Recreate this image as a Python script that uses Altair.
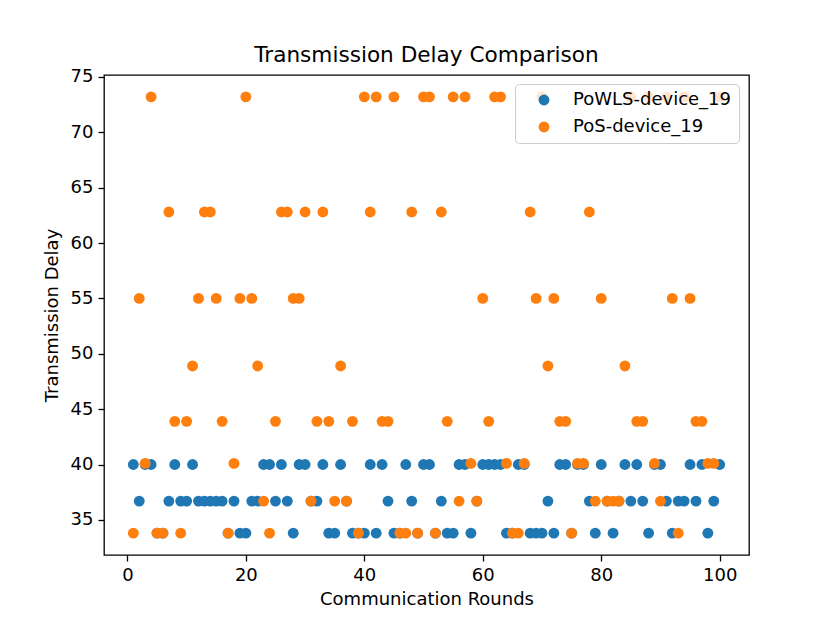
import altair as alt
import pandas as pd

rounds = list(range(1, 101))

powls_delay = [
    40.0, 36.7, 40.0, 40.0, 33.8, 33.8, 36.7, 40.0, 36.7, 36.7,
    40.0, 36.7, 36.7, 36.7, 36.7, 36.7, 33.8, 36.7, 33.8, 33.8,
    36.7, 36.7, 40.0, 40.0, 36.7, 40.0, 36.7, 33.8, 40.0, 40.0,
    36.7, 36.7, 40.0, 33.8, 33.8, 40.0, 36.7, 33.8, 33.8, 33.8,
    40.0, 33.8, 40.0, 36.7, 33.8, 33.8, 40.0, 36.7, 33.8, 40.0,
    40.0, 33.8, 36.7, 33.8, 33.8, 40.0, 40.0, 33.8, 36.7, 40.0,
    40.0, 40.0, 40.0, 33.8, 33.8, 40.0, 40.0, 33.8, 33.8, 33.8,
    36.7, 33.8, 40.0, 40.0, 33.8, 40.0, 40.0, 36.7, 33.8, 40.0,
    36.7, 33.8, 36.7, 40.0, 36.7, 40.0, 36.7, 33.8, 40.0, 40.0,
    36.7, 33.8, 36.7, 36.7, 40.0, 36.7, 40.0, 33.8, 36.7, 40.0,
]

pos_delay = [
    33.8, 55.0, 40.1, 73.2, 33.8, 33.8, 62.8, 43.9, 33.8, 43.9,
    48.9, 55.0, 62.8, 62.8, 55.0, 43.9, 33.8, 40.1, 55.0, 73.2,
    55.0, 48.9, 36.7, 33.8, 43.9, 62.8, 62.8, 55.0, 55.0, 62.8,
    36.7, 43.9, 62.8, 43.9, 36.7, 48.9, 36.7, 43.9, 33.8, 73.2,
    62.8, 73.2, 43.9, 43.9, 73.2, 33.8, 33.8, 62.8, 33.8, 73.2,
    73.2, 33.8, 62.8, 43.9, 73.2, 36.7, 73.2, 40.1, 36.7, 55.0,
    43.9, 73.2, 73.2, 40.1, 33.8, 33.8, 40.1, 62.8, 55.0, 73.2,
    48.9, 55.0, 43.9, 43.9, 33.8, 40.1, 40.1, 62.8, 36.7, 55.0,
    36.7, 36.7, 36.7, 48.9, 73.2, 43.9, 43.9, 73.2, 40.1, 36.7,
    73.2, 55.0, 33.8, 73.2, 55.0, 43.9, 43.9, 40.1, 40.1, 73.2,
]

series_names = ["PoWLS-device_19", "PoS-device_19"]
series_colors = ["#1f77b4", "#ff7f0e"]

df = pd.DataFrame({
    "round": rounds + rounds,
    "delay": powls_delay + pos_delay,
    "series": [series_names[0]] * len(rounds) + [series_names[1]] * len(rounds),
    "layer": [0] * len(rounds) + [1] * len(rounds),
})

font = "DejaVu Sans"

chart = alt.Chart(df).mark_circle(size=118, opacity=1).encode(
    x=alt.X(
        "round:Q",
        scale=alt.Scale(domain=[-3.95, 104.95], nice=False, zero=False),
        axis=alt.Axis(
            values=[0, 20, 40, 60, 80, 100], title="Communication Rounds",
            grid=False, domain=False, tickColor="black", tickWidth=1.3, tickSize=6,
            labelColor="black", labelFontSize=18, labelFont=font, labelPadding=5,
            titleFont=font, titleFontSize=18, titleFontWeight="normal",
            titleColor="black", titlePadding=6,
        ),
    ),
    y=alt.Y(
        "delay:Q",
        scale=alt.Scale(domain=[31.83, 75.17], nice=False, zero=False),
        axis=alt.Axis(
            values=[35, 40, 45, 50, 55, 60, 65, 70, 75], title="Transmission Delay",
            grid=False, domain=False, tickColor="black", tickWidth=1.3, tickSize=6,
            labelColor="black", labelFontSize=18, labelFont=font, labelPadding=5,
            titleFont=font, titleFontSize=18, titleFontWeight="normal",
            titleColor="black", titlePadding=9,
        ),
    ),
    color=alt.Color(
        "series:N",
        scale=alt.Scale(domain=series_names, range=series_colors),
        sort=series_names,
        legend=alt.Legend(
            title=None, orient="none", legendX=411, legendY=9,
            labelFont=font, labelFontSize=18, labelColor="black",
            symbolType="circle", symbolSize=118, symbolOpacity=1,
            padding=7, rowPadding=9, symbolOffset=13, labelOffset=20,
            fillColor="rgba(255,255,255,0.8)", strokeColor="#cccccc",
            cornerRadius=4,
        ),
    ),
    order=alt.Order("layer:Q"),
).properties(
    width=645,
    height=480,
    title=alt.TitleParams(
        "Transmission Delay Comparison", font=font, fontSize=21.6,
        fontWeight="normal", color="black", anchor="middle", offset=1,
    ),
    autosize=alt.AutoSizeParams(type="none"),
    padding={"left": 96, "top": 67, "right": 70, "bottom": 60},
).configure_view(stroke="black", strokeWidth=1.3)

chart.save("out.html", embed_options={"renderer": "svg", "actions": False})
